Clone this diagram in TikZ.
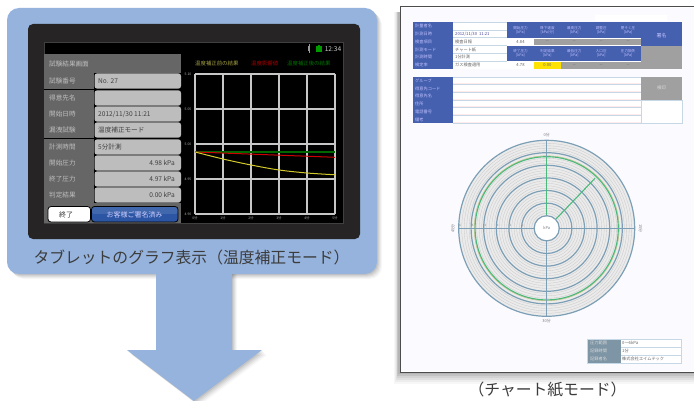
\documentclass[tikz,border=0pt]{standalone}
\usepackage{fontspec}
\newfontfamily\jp{Noto Sans CJK JP}
\definecolor{panelblue}{HTML}{95B3DD}
\definecolor{tabletdark}{HTML}{262425}
\definecolor{rowgray}{HTML}{666666}
\definecolor{fieldgray}{HTML}{BDBDBD}
\definecolor{capgray}{HTML}{3C3C3C}
\definecolor{formblue}{HTML}{4560AE}
\definecolor{formgray}{HTML}{A0A0A0}
\definecolor{formline}{HTML}{C6D8E6}
\definecolor{ringblue}{HTML}{7D9FB5}
\definecolor{ringgray}{HTML}{C8C8C8}
\definecolor{diskgray}{HTML}{EBEBEB}
\definecolor{chartgreen}{HTML}{4CB97C}
\definecolor{btnblue}{HTML}{2C56A3}
\tikzset{
  capt/.style={font=\jp\fontsize{15.8}{16}\selectfont,text=capgray,inner sep=0pt},
  lab/.style={font=\jp\fontsize{6.6}{7}\selectfont,text=white!75!black,inner sep=0pt,anchor=west},
  val/.style={font=\jp\fontsize{6.6}{7}\selectfont,text=black!75,inner sep=0pt,anchor=west},
  valr/.style={font=\jp\fontsize{6.6}{7}\selectfont,text=black!75,inner sep=0pt,anchor=east},
  legendtxt/.style={font=\jp\fontsize{5.4}{6}\selectfont,inner sep=0pt,anchor=west},
  axtxt/.style={font=\jp\fontsize{3.4}{4}\selectfont,text=white!70!black,inner sep=0pt},
  formw/.style={font=\jp\fontsize{4.2}{5}\selectfont,text=white!75!blue,inner sep=0pt},
  formb/.style={font=\jp\fontsize{4.2}{5}\selectfont,text=black!60,inner sep=0pt},
  formh/.style={font=\jp\fontsize{3.6}{4}\selectfont,text=white!75!blue,inner sep=0pt,align=center},
  ringtxt/.style={font=\jp\fontsize{4}{5}\selectfont,text=black!50,inner sep=0pt},
  gridline/.style={draw=white!78!black,line width=1.1pt},
}
\begin{document}
\begin{tikzpicture}[x=1pt,y=-1pt]
\useasboundingbox (0,0) rectangle (694,401);
\fill[white] (0,0) rectangle (694,401);

% --- soft shadows
\foreach \d/\o in {1/.07,2/.06,3/.05,4/.04,5/.03}{
  \fill[black,opacity=\o,rounded corners=12pt] (7+\d,8+\d) rectangle (377+\d,274+\d);
  \fill[black,opacity=\o] (156+\d,270) -- (232+\d,270) -- (232+\d,350+\d) -- (262+\d,350+\d) -- (194+\d,401+\d) -- (127+\d,350+\d) -- (156+\d,350+\d) -- cycle;
}
\foreach \d/\o in {2/.08,4/.07,6/.06,8/.05,10/.04,12/.03}{
  \fill[black,opacity=\o] (399-\d*.4,12) rectangle (694,372+\d);
}

% --- blue panel and arrow
\fill[panelblue,rounded corners=12pt] (7,8) rectangle (377,274);
\fill[panelblue] (156,270) -- (232,270) -- (232,350) -- (262,350) -- (194,401) -- (127,350) -- (156,350) -- cycle;

% --- tablet
\fill[tabletdark,rounded corners=5pt] (28,24) rectangle (360,239);
\fill[black,draw=white!25!black,line width=.8pt] (44,42) rectangle (343,223);

% left table
\fill[rowgray] (44,54) rectangle (181,73);
\fill[rowgray] (44,73) rectangle (94,203);
\fill[rowgray] (44,203) rectangle (181,223);
\node[lab] (title) at (49,64) {試験結果画面};
\foreach \i/\l/\yy in {1/試験番号/81,2/得意先名/98,3/開始日時/114,4/漏洩試験/130,5/計測時間/147,6/開始圧力/163,7/終了圧力/179,8/判定結果/195}{
  \node[lab] (lab\i) at (49,\yy) {\l};
  \fill[fieldgray,rounded corners=2.5pt] (94.5,\yy-7.6) rectangle (181,\yy+7.6);
}
\draw[black,line width=.8pt] (44,89.7)--(94,89.7) (44,138.5)--(94,138.5);
\node[val] (v1) at (98,81) {No. 27};
\node[val] (v3) at (98,114) {2012/11/30 11:21};
\node[val] (v4) at (98,130) {温度補正モード};
\node[val] (v5) at (98,147) {5分計測};
\node[valr] (v6) at (175,163) {4.98 kPa};
\node[valr] (v7) at (175,179) {4.97 kPa};
\node[valr] (v8) at (175,195) {0.00 kPa};
\draw[fill=white,draw=black,line width=.8pt,rounded corners=3pt] (48,206.5) rectangle (90.5,222);
\draw[fill=btnblue,draw=black,line width=.8pt,rounded corners=3pt] (91.5,206.5) rectangle (178,222);
\fill[white,opacity=.10,rounded corners=2pt] (92,207) rectangle (177.5,214);
\node[font=\jp\fontsize{7}{8}\selectfont,text=black!80,inner sep=0pt] (endbtn) at (66,214.5) {終了};
\node[font=\jp\fontsize{7}{8}\selectfont,text=white!80!blue,inner sep=0pt] (signbtn) at (134.5,214.5) {お客様ご署名済み};

% status bar
\fill[white!60!black] (307.5,46) rectangle (310,51);
\draw[white!60!black,line width=.4pt] (308.7,44.5)--(308.7,53);
\fill[green!60!black] (316,46.5) rectangle (322,52);
\fill[green!60!black] (318,45) rectangle (320,46.5);
\node[font=\jp\fontsize{6.6}{7}\selectfont,text=white!80!black,inner sep=0pt] (clock) at (333,49.5) {12:34};

% legend
\node[legendtxt,text=yellow!60!black] (lg1) at (195,63) {温度補正前の結果};
\node[legendtxt,text=red!65!black] (lg2) at (251,63) {温度影響値};
\node[legendtxt,text=green!45!black] (lg3) at (287,63) {温度補正後の結果};

% chart
\foreach \k in {0,...,5}{ \draw[gridline] (195+\k*28,74) -- (195+\k*28,214); }
\foreach \k in {0,...,4}{ \draw[gridline] (195,74+\k*35) -- (335,74+\k*35); }
\foreach \k/\t in {0/5.10,1/5.05,2/5.00,3/4.95,4/4.90}{ \node[axtxt] (yl\k) at (188,74+\k*35) {\t}; }
\foreach \k/\t in {0/0分,1/1分,2/2分,3/3分,4/4分,5/5分}{ \node[axtxt] (xl\k) at (195+\k*28,218.5) {\t}; }
\draw[green!40!black,line width=1.5pt] (195,152)--(335,152);
\draw[red!80!black,line width=1pt] (195,152)--(335,157.3);
\draw[yellow!80!black,line width=1pt] plot[smooth] coordinates {(195,152)(223,159)(251,165)(279,170)(307,173)(335,174.8)};

% --- paper
\fill[white] (400,7) rectangle (694,372);
\fill[blue!2] (400,8) rectangle (694,371);
\draw[black!70,line width=1pt] (694,7) -- (400,7) -- (400,372) -- (694,372);
\fill[white] (595,15) rectangle (667,21);

% top form
\fill[white] (413,22) rectangle (641,69);
\fill[formblue] (413,22) rectangle (453,69);
\foreach \k/\t in {0/計量者名,1/計測日時,2/検査項目,3/計測モード,4/計測時間,5/検定率}{
  \node[formw,anchor=west] (fa\k) at (415,26+\k*7.85) {\t};
  \draw[formline,line width=.5pt] (453,22+\k*7.85) -- (507,22+\k*7.85);
}
\node[formb,anchor=west,text=blue!45!black!70] (fb1) at (455,33.8) {2012/11/30 \ 11:21};
\node[formb,anchor=west] (fb2) at (455,41.7) {検査日報};
\node[formb,anchor=west] (fb3) at (455,49.5) {チャート紙};
\node[formb,anchor=west] (fb4) at (455,57.4) {1分計測};
\node[formb,anchor=west] (fb5) at (455,65.2) {ガス検査適用};
\fill[formblue] (507,22) rectangle (641,38);
\fill[formblue] (507,46) rectangle (641,61);
\foreach \i/\a/\b in {0/開始圧力/{[kPa]},1/降下速度/{[kPa/分]},2/最高圧力/{[kPa]},3/調整圧/{[kPa]},4/閉そく圧/{[kPa]}}{
  \node[formh] (hA\i) at (520.5+\i*26.9,30) {\a\\\b};
}
\foreach \i/\a/\b in {0/終了圧力/{[kPa]},1/判定結果/{[kPa]},2/最低圧力/{[kPa]},3/入口圧/{[kPa]},4/圧力損失/{[kPa]}}{
  \node[formh] (hB\i) at (520.5+\i*26.9,53.5) {\a\\\b};
}
\fill[white] (507.5,39) rectangle (533.5,45);
\fill[formgray] (534,39) rectangle (641,45);
\fill[white] (507.5,62) rectangle (533.5,69);
\fill[yellow!85!orange] (534,62) rectangle (560.5,69);
\fill[formgray] (560.5,62) rectangle (641,69);
\node[formb] (n1) at (520.5,42) {4.84};
\node[formb] (n2) at (520.5,65.5) {4.78};
\node[formb] (n3) at (547.4,65.5) {0.00};
\foreach \i in {1,2,3,4}{ \node[formb] (da\i) at (520.5+\i*26.9,42) {--}; }
\foreach \i in {2,3,4}{ \node[formb] (db\i) at (520.5+\i*26.9,65.5) {--}; }
\fill[formblue] (641,22) rectangle (682,46);
\fill[formgray] (641,46) rectangle (682,69);
\node[formw,font=\jp\fontsize{5}{6}\selectfont] (sg) at (661.5,36) {署名};

% second form
\fill[white] (413,77) rectangle (682,123);
\fill[formblue] (413,77) rectangle (453,123);
\foreach \k/\t in {0/グループ,1/得意先コード,2/得意先名,3/住所,4/電話番号,5/備考}{
  \node[formw,anchor=west] (fc\k) at (415,81+\k*7.7) {\t};
  \draw[formline,line width=.7pt] (453,77+\k*7.7) -- (641,77+\k*7.7);
  \draw[red!8,line width=.5pt] (453,83.5+\k*7.7) -- (641,83.5+\k*7.7);
}
\draw[formline,line width=.7pt] (453,123) -- (641,123);
\fill[formgray] (641,77) rectangle (682,100);
\node[formw,font=\jp\fontsize{4.5}{5}\selectfont,text=white!85!black] (sh) at (661.5,88) {検印};
\draw[formline,line width=.6pt] (641,100) rectangle (682,123);

% --- polar chart
\coordinate (c) at (546.7,228.3);
\fill[diskgray] (c) circle[radius=88];
\foreach \r in {15,17.5,20,22.5,27.5,30,32.5,35,40,42.5,45,47.5,52.5,55,57.5,60,65,67.5,70,72.5,77.5,80,82.5,85}{
  \draw[ringgray,line width=.3pt] (c) circle[radius=\r];
}
\foreach \r in {25.2,37.8,50.4,63,75.6,88}{ \draw[ringblue,line width=1.2pt] (c) circle[radius=\r]; }
\draw[yellow!60!black!60,line width=.5pt] (c) circle[radius=72.4];
\draw[chartgreen,line width=1.1pt] (c) circle[radius=71.6];
\draw[ringblue,line width=1.2pt] (458.7,228.3) -- (634.7,228.3) (546.7,140.3) -- (546.7,316.3);
\draw[chartgreen,line width=1.1pt] (546.7,216) -- (546.7,156.7);
\draw[chartgreen,line width=1.1pt] (556,219) -- (595,178.3);
\fill[white] (c) circle[radius=12];
\draw[ringblue,line width=1.2pt] (c) circle[radius=12.6];
\node[ringtxt] (cc) at (c) {kPa};
\node[ringtxt] (rt) at (546.7,134.8) {0分};
\node[ringtxt] (rb) at (546.7,320.8) {30分};
\node[ringtxt,rotate=90] (rl) at (452.8,228.3) {45分};
\node[ringtxt,rotate=-90] (rr) at (640.5,228.3) {15分};
\foreach \k/\t in {0/6,1/5,2/4,3/3,4/2,5/1}{
  \node[font=\jp\fontsize{3}{3}\selectfont,text=black!50,inner sep=0pt] (tk\k) at (460+\k*12.6,225) {\t};
}

% bottom right table
\fill[white] (587,339) rectangle (681,363);
\fill[ringblue!70!gray] (587,339) rectangle (621,363);
\draw[formline,line width=.5pt] (587,339) rectangle (681,363) (621,347)--(681,347) (621,355)--(681,355);
\foreach \k/\a/\b in {0/圧力範囲/{0～6kPa},1/記録時間/{1分},2/記録者名/{株式会社エイムテック}}{
  \node[formw,anchor=west,text=white!85!black] (ga\k) at (590,343+\k*8) {\a};
  \node[formb,anchor=west] (gb\k) at (622,343+\k*8) {\b};
}

% --- captions
\node[capt] (cap1) at (191.5,257) {タブレットのグラフ表示（温度補正モード）};
\node[capt] (cap2) at (547.5,390) {（チャート紙モード）};
\end{tikzpicture}
\end{document}
